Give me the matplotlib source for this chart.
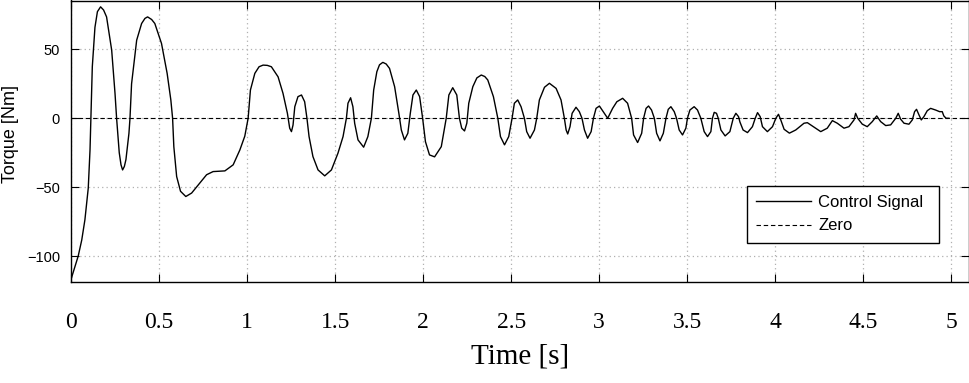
import matplotlib
matplotlib.use("Agg")
import matplotlib.pyplot as plt

time_s = [
    0.000, 0.023, 0.041, 0.061, 0.079, 0.098, 0.108, 0.113, 0.121, 0.136, 0.150, 0.168, 0.185, 0.202,
    0.231, 0.250, 0.259, 0.274, 0.284, 0.293, 0.303, 0.312, 0.329, 0.335, 0.344, 0.373, 0.401, 0.420, 0.435,
    0.458, 0.476, 0.514, 0.546, 0.567, 0.577, 0.584, 0.600, 0.622, 0.652, 0.685, 0.732, 0.770,
    0.807, 0.874, 0.921, 0.959, 0.987, 1.006, 1.019, 1.044, 1.068, 1.091, 1.115, 1.138, 1.176,
    1.204, 1.229, 1.242, 1.252, 1.261, 1.271, 1.289, 1.309, 1.327, 1.340, 1.352, 1.374,
    1.403, 1.441, 1.479, 1.516, 1.545, 1.564, 1.573, 1.588, 1.601, 1.611, 1.630, 1.662,
    1.686, 1.706, 1.719, 1.737, 1.752, 1.771, 1.790, 1.809, 1.838, 1.862, 1.876, 1.894, 1.913, 1.927,
    1.942, 1.961, 1.980, 1.997, 2.013, 2.036, 2.065, 2.103, 2.131, 2.146, 2.168, 2.191,
    2.206, 2.219, 2.235, 2.248, 2.259, 2.282, 2.305, 2.330, 2.350, 2.367, 2.399, 2.424, 2.439, 2.462,
    2.486, 2.505, 2.518, 2.537, 2.556, 2.575, 2.588, 2.607, 2.632, 2.645, 2.660, 2.689,
    2.717, 2.755, 2.783, 2.802, 2.812, 2.821, 2.834, 2.846, 2.868, 2.887, 2.902, 2.916,
    2.934, 2.954, 2.967, 2.982, 3.001, 3.023, 3.048, 3.076, 3.100, 3.133, 3.161, 3.184,
    3.195, 3.218, 3.241, 3.252, 3.266, 3.280, 3.297, 3.313, 3.326, 3.345, 3.364, 3.379,
    3.392, 3.407, 3.426, 3.439, 3.454, 3.473, 3.492, 3.501, 3.515, 3.539, 3.558, 3.577,
    3.596, 3.615, 3.634, 3.643, 3.653, 3.666, 3.676, 3.691, 3.715, 3.742, 3.761, 3.776,
    3.791, 3.799, 3.817, 3.842, 3.870, 3.886, 3.899, 3.914, 3.927, 3.955, 3.984, 4.003,
    4.018, 4.031, 4.050, 4.080, 4.116, 4.163, 4.182, 4.210, 4.258, 4.295, 4.324, 4.352,
    4.390, 4.418, 4.447, 4.456, 4.468, 4.494, 4.522, 4.551, 4.576, 4.598, 4.627, 4.655,
    4.684, 4.698, 4.712, 4.731, 4.759, 4.778, 4.791, 4.802, 4.816, 4.829, 4.844, 4.863,
    4.882, 4.910, 4.933, 4.948, 4.957, 4.970, 4.986,
]
torque_nm = [
    -117.0, -107.5, -100.0, -88.4, -73.7, -50.7, -23.0, 0.0, 37.4, 66.0, 77.4, 80.9, 78.6, 73.6,
    49.5, 18.0, 0.0, -25.0, -33.8, -37.5, -35.0, -30.0, -11.0, 0.0, 25.0, 56.7, 68.8, 72.5, 73.6,
    71.7, 68.8, 54.3, 32.6, 13.3, 0.0, -20.6, -42.3, -53.0, -56.8, -54.3, -47.0, -41.0,
    -38.7, -38.2, -33.8, -23.0, -13.0, 0.0, 20.5, 32.6, 37.4, 38.6, 38.4, 37.4, 30.1,
    18.1, 3.6, -7.2, -9.7, -4.9, 8.4, 15.7, 16.9, 12.0, 0.0, -13.3, -27.8,
    -37.5, -41.8, -37.5, -25.4, -13.3, 0.0, 10.9, 14.9, 8.4, -3.6, -15.7, -21.0,
    -13.3, 0.0, 20.5, 33.8, 38.8, 40.6, 39.4, 36.2, 22.9, 3.6, -8.5, -15.7, -10.9, 3.6,
    16.9, 20.5, 15.7, 0.0, -17.0, -26.6, -28.0, -20.6, 0.0, 16.9, 22.2, 16.9,
    0.0, -7.2, -9.2, -3.6, 10.9, 22.9, 29.3, 31.4, 30.3, 27.8, 15.7, 0.0, -13.3, -19.3,
    -13.3, 0.0, 10.9, 13.3, 8.4, 0.0, -9.7, -14.5, -8.5, 0.0, 13.3, 22.5,
    25.4, 21.7, 13.3, 0.0, -8.5, -11.4, -6.1, 3.6, 8.0, 4.8, 0.0, -8.5,
    -14.5, -9.7, 0.0, 7.2, 8.9, 4.8, 0.0, 7.2, 12.0, 14.5, 10.9, 0.0,
    -12.1, -17.6, -10.9, 0.0, 7.2, 8.9, 6.0, 0.0, -10.9, -16.4, -10.9, 0.0,
    6.5, 8.4, 4.8, 0.0, -8.5, -12.1, -7.2, 0.0, 6.0, 8.4, 6.0, 0.0,
    -9.7, -13.3, -9.7, 0.0, 4.3, 3.6, 0.0, -8.5, -12.8, -9.7, 0.0, 3.6,
    1.2, -2.7, -8.5, -10.4, -6.1, 0.0, 4.1, 1.2, -6.1, -9.7, -6.1, 0.0,
    2.9, -1.2, -8.0, -10.8, -8.5, -3.6, -3.2, -5.6, -9.7, -7.2, -1.7, -3.6,
    -7.2, -6.1, -1.2, 3.6, 0.0, -4.3, -6.1, -2.4, 1.7, -2.4, -5.3, -4.8,
    0.0, 3.6, -0.7, -3.6, -4.3, -1.2, 4.8, 6.5, 2.4, -1.2, 1.2, 5.5,
    7.2, 6.0, 4.8, 4.8, 1.7, 0.0, 0.0,
]
zero_x = [0.0, 5.1]
zero_y = [0.0, 0.0]
x_ticks = [0, 0.5, 1, 1.5, 2, 2.5, 3, 3.5, 4, 4.5, 5]
x_tick_labels = ["0", "0.5", "1", "1.5", "2", "2.5", "3", "3.5", "4", "4.5", "5"]
y_ticks = [-100, -50, 0, 50]
y_tick_labels = ["\u2212100", "\u221250", "0", "50"]

W, H = 970, 383
fig = plt.figure(figsize=(W / 100, H / 100), dpi=100)
ax = fig.add_axes([71 / W, (H - 281.5) / H, 898 / W, 281 / H])

ax.plot(time_s, torque_nm, color="black", lw=1.0, label="Control Signal")
ax.plot(zero_x, zero_y, color="black", lw=0.8, linestyle=(0, (4, 2.5)), label="Zero")

ax.set_xlim(0, 5.1)
ax.set_ylim(-118.5, 85.5)
ax.set_xticks(x_ticks)
ax.set_xticklabels(x_tick_labels, family="Liberation Serif", fontsize=17)
ax.set_yticks(y_ticks)
ax.set_yticklabels(y_tick_labels, family="Liberation Sans", fontsize=10.5)
ax.tick_params(axis="both", direction="in", length=6, width=0.8, top=True, right=True)
ax.tick_params(axis="x", pad=22)
ax.tick_params(axis="y", pad=8)
for s in ax.spines.values():
    s.set_linewidth(1.0)
ax.grid(True, color="#b0b0b0", linestyle=(0, (1, 2.5)), linewidth=0.9)

ax.set_xlabel("Time [s]", family="Liberation Serif", fontsize=21)
ax.xaxis.set_label_coords(0.5, (281.5 - 357) / 281, transform=ax.transAxes)
ax.xaxis.label.set_va("center")
ax.set_ylabel("Torque [Nm]", family="Liberation Sans", fontsize=13)
ax.yaxis.set_label_coords((10.5 - 71) / 898, (281.5 - 134) / 281, transform=ax.transAxes)
ax.yaxis.label.set_va("center")

leg = ax.legend(loc="upper left", bbox_to_anchor=(0.7531, 0.1417, 0.2138, 0.1982),
                mode="expand", borderaxespad=0,
                prop={"family": "Liberation Sans", "size": 12}, fancybox=False,
                framealpha=1, edgecolor="black", handlelength=3.3, handletextpad=0.4,
                borderpad=0.55, labelspacing=0.5)
leg.get_frame().set_linewidth(1.0)

fig.savefig("out.png", dpi=100)
